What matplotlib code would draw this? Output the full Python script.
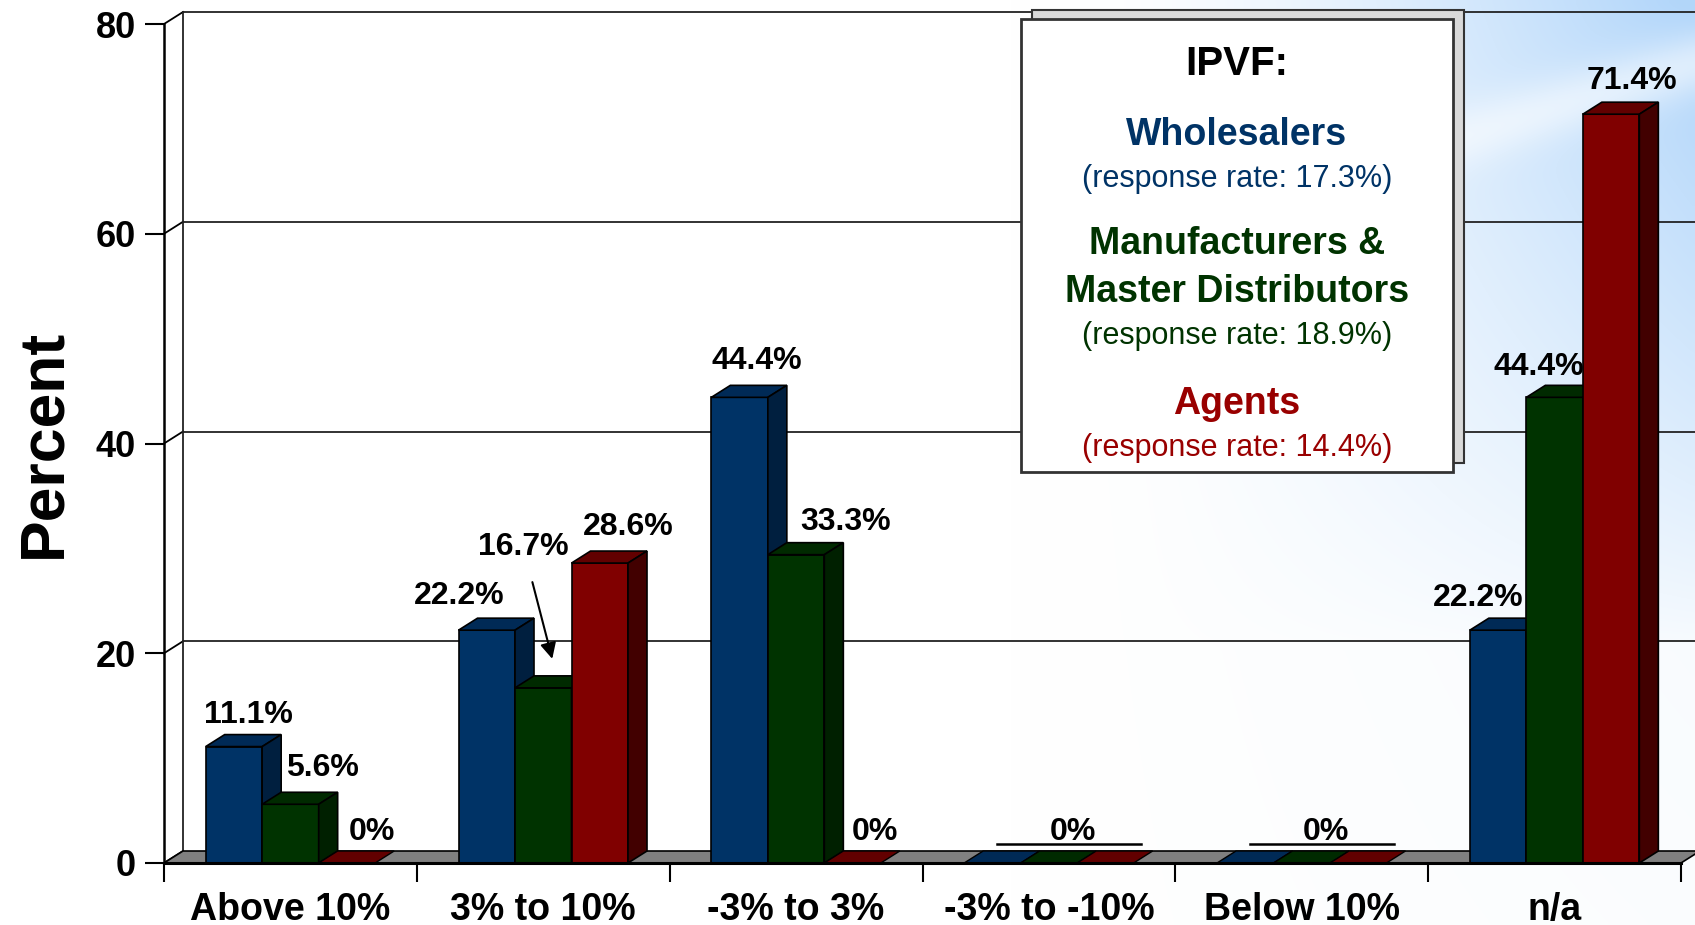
import numpy as np
import matplotlib.pyplot as plt
from matplotlib.patches import Polygon, Rectangle

categories = ['Above 10%', '3% to 10%', '-3% to 3%', '-3% to -10%', 'Below 10%', 'n/a']
wholesalers = [11.1, 22.2, 44.4, 0, 0, 22.2]
manufacturers = [5.6, 16.7, 29.4, 0, 0, 44.4]
agents = [0, 28.6, 0, 0, 0, 71.4]
wholesalers_lbl = ['11.1%', '22.2%', '44.4%', '', '', '22.2%']
manufacturers_lbl = ['5.6%', '16.7%', '33.3%', '', '', '44.4%']
agents_lbl = ['0%', '28.6%', '0%', '', '', '71.4%']
group_lbl = ['', '', '', '0%', '0%', '']
legend_names = ['Wholesalers', 'Manufacturers &', 'Master Distributors', 'Agents']
response_rates = ['17.3%', '18.9%', '14.4%']
yticks = [0, 20, 40, 60, 80]

# label offsets in pixels (right, up) from the bar's front-top centre
off_w = [(15, 32), (-28, 34), (17, 36), None, None, (-20, 32)]
off_m = [(32, 36), (-20, 141), (50, 33), None, None, (-16, 30)]
off_a = [(25, 31), (28, 36), (22, 31), None, None, (21, 33)]

front = ['#003366', '#003300', '#800000']
top = ['#002a56', '#002a00', '#620000']
side = ['#001f3f', '#002000', '#420000']

plt.rcParams['font.family'] = ['Liberation Sans', 'DejaVu Sans']

W, H = 1695, 925
fig = plt.figure(figsize=(W / 100, H / 100), dpi=100)

# background: white with light blue wash at the upper right
bg = fig.add_axes([0, 0, 1, 1], zorder=-10)
xx, yy = np.meshgrid(np.linspace(0, 1, 400), np.linspace(1, 0, 220))
t = 0.9 * np.clip((xx - 0.66) / 0.34, 0, 1) ** 1.3 * np.clip((yy - 0.3) / 0.7, 0, 1) ** 0.8
t += 0.14 * np.clip((xx - 0.6) / 0.4, 0, 1) * (0.4 + 0.6 * yy)
streak = np.exp(-((yy - 0.86 - 0.58 * (xx - 0.875)) / 0.035) ** 2)
t = np.clip(t * (1 - 0.55 * streak), 0, 1)
blue = np.array([0.70, 0.84, 0.98])
img = (1 - t[..., None]) * np.ones(3) + t[..., None] * blue
bg.imshow(img, aspect='auto', extent=[0, 1, 0, 1], interpolation='bicubic')
bg.axis('off')

x0, x1, y0, y1 = 164, 1681, 863, 24
ax = fig.add_axes([x0 / W, 1 - y0 / H, (x1 - x0) / W, (y0 - y1) / H])
ax.set_xlim(0, len(categories))
ax.set_ylim(0, 80)
ax.patch.set_alpha(0)
for s in ax.spines.values():
    s.set_visible(False)

ppx = (x1 - x0) / len(categories)
ppy = (y0 - y1) / 80
DX, DY = 19 / ppx, 12 / ppy
bw = 56.5 / ppx
n = len(categories)
kw = dict(clip_on=False)

# floor
ax.add_patch(Polygon([(0, 0), (n, 0), (n + DX, DY), (DX, DY)], closed=True,
                     facecolor='#808080', edgecolor='black', lw=1.2, zorder=2, **kw))
ax.plot([0, n], [0, 0], color='black', lw=2.2, zorder=6, **kw)

# walls and gridlines
for v in yticks:
    if v > 0:
        ax.plot([DX, n + DX], [v + DY, v + DY], color='#222222', lw=1.3, zorder=1, **kw)
    ax.plot([0, DX], [v, v + DY], color='black', lw=1.3, zorder=1, **kw)
ax.plot([0, 0], [0, 80], color='black', lw=1.8, zorder=1, **kw)
ax.plot([DX, DX], [DY, 80 + DY], color='#222222', lw=1.3, zorder=1, **kw)

# bars
all_vals = [wholesalers, manufacturers, agents]
all_lbls = [wholesalers_lbl, manufacturers_lbl, agents_lbl]
all_offs = [off_w, off_m, off_a]
for i in range(n):
    c = i + 0.5
    for j in range(3):
        v = all_vals[j][i]
        xl = c + (j - 1.5) * bw
        xr = xl + bw
        z = 3 + j
        if v > 0:
            ax.add_patch(Rectangle((xl, 0), bw, v, facecolor=front[j], edgecolor='black', lw=1.2, zorder=z, **kw))
            ax.add_patch(Polygon([(xl, v), (xr, v), (xr + DX, v + DY), (xl + DX, v + DY)], closed=True,
                                 facecolor=top[j], edgecolor='black', lw=1.2, zorder=z, **kw))
            ax.add_patch(Polygon([(xr, 0), (xr + DX, DY), (xr + DX, v + DY), (xr, v)], closed=True,
                                 facecolor=side[j], edgecolor='black', lw=1.2, zorder=z, **kw))
        else:
            ax.add_patch(Polygon([(xl, 0), (xr, 0), (xr + DX, DY), (xl + DX, DY)], closed=True,
                                 facecolor=top[j], edgecolor='black', lw=1.0, zorder=z, **kw))
        lbl = all_lbls[j][i]
        if lbl:
            ox, oy = all_offs[j][i]
            if j == 1 and i == 1:
                ax.annotate(lbl, xy=(c + 9 / ppx, v + 29 / ppy), xytext=(ox - 9, oy - 29),
                            textcoords='offset pixels', ha='center', va='center',
                            fontsize=23, fontweight='bold', zorder=10,
                            arrowprops=dict(arrowstyle='-|>', color='black', lw=1.5,
                                            mutation_scale=24, shrinkA=13, shrinkB=0))
            else:
                ax.annotate(lbl, xy=(c + (j - 1) * bw, v), xytext=(ox, oy), textcoords='offset pixels',
                            ha='center', va='center', fontsize=23, fontweight='bold', zorder=10, **kw)
    if group_lbl[i]:
        ax.annotate(group_lbl[i], xy=(c, 0), xytext=(24, 31), textcoords='offset pixels',
                    ha='center', va='center', fontsize=23, fontweight='bold', zorder=10)
        ax.plot([c - 52 / ppx, c + 92 / ppx], [19 / ppy, 19 / ppy], color='black', lw=1.8, zorder=10, **kw)

# axes ticks
ax.set_yticks(yticks)
ax.set_yticklabels([str(v) for v in yticks], fontsize=26, fontweight='bold')
ax.set_xticks(np.arange(n + 1))
ax.set_xticklabels([])
ax.set_xticks(np.arange(n) + 0.5, minor=True)
ax.set_xticklabels(categories, minor=True, fontsize=27, fontweight='bold')
ax.tick_params(axis='y', length=14, width=1.5, pad=6, direction='out')
ax.tick_params(axis='x', which='major', length=14, width=1.5, direction='out')
ax.tick_params(axis='x', which='minor', length=0, pad=21)
ax.set_ylabel('Percent', fontsize=45, fontweight='bold', labelpad=16)

# legend box with shadow
lx0, ly0, lx1, ly1 = 1021, 19, 1453, 472
shadow = Rectangle(((lx0 + 11) / W, 1 - (ly1 - 9) / H), (lx1 - lx0) / W, (ly1 - ly0) / H,
                   transform=fig.transFigure, facecolor='#d9d9d9', edgecolor='#333333', lw=1.5, zorder=20)
box = Rectangle((lx0 / W, 1 - ly1 / H), (lx1 - lx0) / W, (ly1 - ly0) / H,
                transform=fig.transFigure, facecolor='white', edgecolor='#333333', lw=2, zorder=21)
fig.patches.extend([shadow, box])
cx = (lx0 + lx1) / 2 / W
legend_colors = ['#003366', '#003300', '#003300', '#990000']
head_y = [135, 244, 292, 404]
rate_y = [179, 336, 448]
fig.text(cx, 1 - 64 / H, 'IPVF:', ha='center', va='center', fontsize=29, fontweight='bold', zorder=22)
for name, col, y in zip(legend_names, legend_colors, head_y):
    fig.text(cx, 1 - y / H, name, ha='center', va='center', fontsize=27, fontweight='bold',
             color=col, zorder=22)
for rate, col, y in zip(response_rates, ['#003366', '#003300', '#990000'], rate_y):
    fig.text(cx, 1 - y / H, '(response rate: %s)' % rate, ha='center', va='center',
             fontsize=22, color=col, zorder=22)

fig.savefig('out.png', dpi=100)
